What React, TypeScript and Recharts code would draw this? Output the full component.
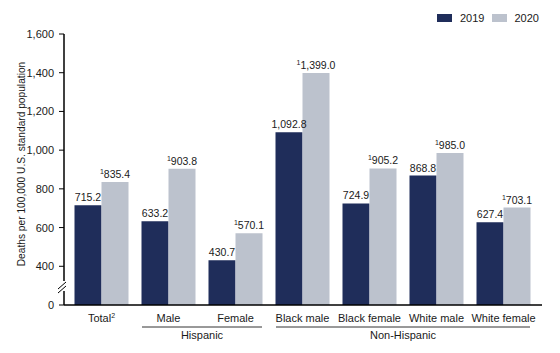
import React from "react";
import { BarChart, Bar, XAxis, YAxis, LabelList } from "recharts";

const categories = ["Total", "Male", "Female", "Black male", "Black female", "White male", "White female"];
const rates2019 = [715.2, 633.2, 430.7, 1092.8, 724.9, 868.8, 627.4];
const rates2020 = [835.4, 903.8, 570.1, 1399.0, 905.2, 985.0, 703.1];
const yTicks = [200, 400, 600, 800, 1000, 1200, 1400, 1600];
const groups = [
  { label: "Hispanic", from: 1, to: 2 },
  { label: "Non-Hispanic", from: 3, to: 6 },
];

const NAVY = "#1f2d5a";
const GRAY = "#bcc2cd";
const FONT = "'Liberation Sans', Arial, sans-serif";
const TEXT = "#1a1a1a";
const STEP = 67; // width of one category band

const data = categories.map((name, i) => ({
  name,
  y2019: rates2019[i],
  y2020: rates2020[i],
}));

const fmt = (v: number) =>
  v.toLocaleString("en-US", { minimumFractionDigits: 1, maximumFractionDigits: 1 });

const makeLabel = (sup: boolean) => (props: any) => {
  const { x, y, width, value } = props;
  return (
    <text x={x + width / 2} y={y - 4} textAnchor="middle" fontSize={10.5} fill={TEXT} fontFamily={FONT}>
      {sup && (
        <tspan fontSize={7} dy={-4}>
          1
        </tspan>
      )}
      <tspan dy={sup ? 4 : 0}>{fmt(value)}</tspan>
    </text>
  );
};

const XTick = (props: any) => {
  const { x, y, payload, index } = props;
  const g = groups.find((gr) => gr.from === index);
  return (
    <g>
      <text x={x} y={y + 9} textAnchor="middle" fontSize={11} fill={TEXT} fontFamily={FONT}>
        {payload.value}
        {index === 0 && (
          <tspan fontSize={7} dy={-4}>
            2
          </tspan>
        )}
      </text>
      {g && (
        <g>
          <line
            x1={x - 26.5}
            x2={x + (g.to - g.from) * STEP + 26.5}
            y1={y + 14}
            y2={y + 14}
            stroke="#333"
            strokeWidth={1}
          />
          <text
            x={x + ((g.to - g.from) * STEP) / 2}
            y={y + 26}
            textAnchor="middle"
            fontSize={11}
            fill={TEXT}
            fontFamily={FONT}
          >
            {g.label}
          </text>
        </g>
      )}
    </g>
  );
};

const YTick = (props: any) => {
  const { x, y, payload } = props;
  const v = payload.value as number;
  return (
    <g>
      <text x={x - 3} y={y + 4} textAnchor="end" fontSize={11} fill={TEXT} fontFamily={FONT}>
        {v === 200 ? "0" : v.toLocaleString("en-US")}
      </text>
      {v === 200 && (
        <g>
          <rect x={x + 2} y={y - 24} width={8} height={10} fill="#fff" />
          <line x1={x + 1} y1={y - 16} x2={x + 9} y2={y - 23} stroke="#000" strokeWidth={1} />
          <line x1={x + 1} y1={y - 12} x2={x + 9} y2={y - 19} stroke="#000" strokeWidth={1} />
        </g>
      )}
    </g>
  );
};

export default function App() {
  return (
    <div style={{ position: "absolute", left: 0, top: 0, width: 560, height: 353, background: "#fff", fontFamily: FONT }}>
      <BarChart
        width={560}
        height={353}
        data={data}
        margin={{ top: 34, right: 18, bottom: 0, left: 0 }}
        barCategoryGap={6.5}
        barGap={0}
      >
        <XAxis
          dataKey="name"
          tick={<XTick />}
          tickLine={false}
          axisLine={{ stroke: "#000", strokeWidth: 1.5 }}
          padding={{ left: 4, right: 5 }}
          height={48}
          interval={0}
        />
        <YAxis
          domain={[200, 1600]}
          ticks={yTicks}
          width={64}
          tick={<YTick />}
          tickSize={5}
          tickLine={{ stroke: "#000" }}
          axisLine={{ stroke: "#000", strokeWidth: 1.5 }}
          interval={0}
        />
        <Bar dataKey="y2019" name="2019" fill={NAVY} isAnimationActive={false}>
          <LabelList dataKey="y2019" content={makeLabel(false)} />
        </Bar>
        <Bar dataKey="y2020" name="2020" fill={GRAY} isAnimationActive={false}>
          <LabelList dataKey="y2020" content={makeLabel(true)} />
        </Bar>
      </BarChart>
      <div
        style={{
          position: "absolute",
          left: 21,
          top: 164,
          transform: "translate(-50%, -50%) rotate(-90deg)",
          whiteSpace: "nowrap",
          fontSize: 10.2,
          color: TEXT,
        }}
      >
        Deaths per 100,000 U.S. standard population
      </div>
      <div style={{ position: "absolute", left: 437, top: 12, display: "flex", alignItems: "center", fontSize: 11, color: TEXT }}>
        <span style={{ width: 15, height: 8, background: NAVY, display: "inline-block", marginRight: 8 }} />
        <span style={{ marginRight: 8 }}>2019</span>
        <span style={{ width: 15, height: 8, background: GRAY, display: "inline-block", marginRight: 7 }} />
        <span>2020</span>
      </div>
    </div>
  );
}
